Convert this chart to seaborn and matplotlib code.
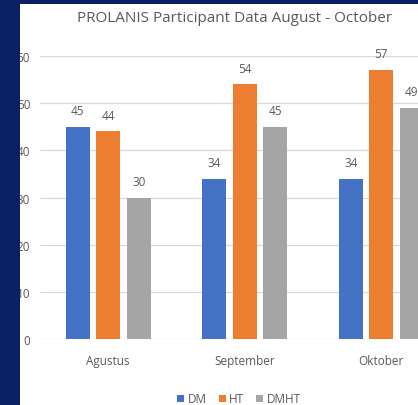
import pandas as pd
import matplotlib.pyplot as plt
import seaborn as sb
from matplotlib.patches import Rectangle

# Chart data
months = ['Agustus', 'September', 'Oktober']
groups = ['DM', 'HT', 'DMHT']
dm = [45, 34, 34]
ht = [44, 54, 57]
dmht = [30, 45, 49]

df = pd.DataFrame({'month': months, 'DM': dm, 'HT': ht, 'DMHT': dmht})
df_long = df.melt(id_vars='month', value_vars=groups, var_name='group', value_name='count')

sb.set_style('white')
plt.rcParams['font.family'] = ['Open Sans', 'DejaVu Sans']

navy = '#0a2161'
grey_text = '#595959'
palette = {'DM': '#4472C4', 'HT': '#ED7D31', 'DMHT': '#A5A5A5'}

W, H = 418, 406
fig = plt.figure(figsize=(W / 100, H / 100), dpi=100)
fig.patch.set_facecolor('white')

# plot area runs past the right edge, like the cropped screenshot
ax = fig.add_axes([40 / W, 66 / H, 409.5 / W, 283 / H])
sb.barplot(data=df_long, x='month', y='count', hue='group', hue_order=groups,
           palette=palette, saturation=1, width=0.67, gap=0.21, ax=ax,
           edgecolor='none', linewidth=0, legend=True)

ax.set_xlim(-0.5, 2.5)
ax.set_ylim(0, 60)
ax.set_yticks(range(0, 61, 10))
ax.yaxis.grid(True, color='#d9d9d9', linewidth=0.9)
ax.set_axisbelow(True)
for s in ax.spines.values():
    s.set_visible(False)
ax.tick_params(axis='both', length=0, labelsize=8.5, labelcolor=grey_text)
ax.tick_params(axis='y', pad=7)
ax.tick_params(axis='x', pad=11)
ax.set_xlabel('')
ax.set_ylabel('')

for cont in ax.containers:
    ax.bar_label(cont, padding=7, fontsize=8.5, color=grey_text)

handles, labels = ax.get_legend_handles_labels()
ax.get_legend().remove()
fig.legend(handles, labels, loc='center', bbox_to_anchor=(239 / W, 1 - 400 / H),
           ncol=3, frameon=False, fontsize=8.5, handlelength=0.6, handleheight=0.6,
           handletextpad=0.3, columnspacing=1.0, labelcolor=grey_text)

fig.text(235 / W, 1 - 18 / H, 'PROLANIS Participant Data August - October',
         ha='center', va='center', fontsize=11, color=grey_text)

# dark frame of the screenshot on the left and top
fig.patches.append(Rectangle((0, 0), 20 / W, 1, transform=fig.transFigure,
                             facecolor=navy, edgecolor='none', zorder=10))
fig.patches.append(Rectangle((0, 1 - 5 / H), 1, 5 / H, transform=fig.transFigure,
                             facecolor=navy, edgecolor='none', zorder=10))

plt.savefig('out.png', dpi=100)
